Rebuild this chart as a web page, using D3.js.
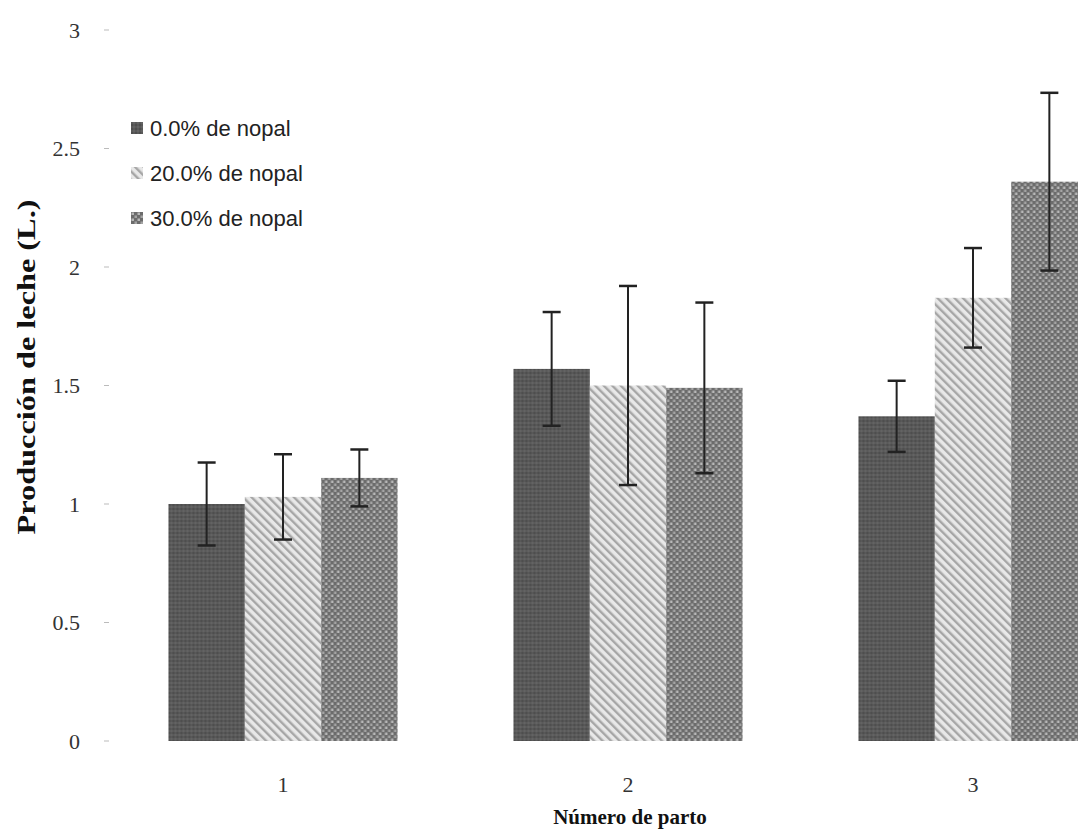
<!DOCTYPE html>
<html>
<head>
<meta charset="utf-8">
<script src="https://cdn.jsdelivr.net/npm/d3@7"></script>
<style>
  body { margin: 0; background: #fff; }
  svg { display: block; }
</style>
</head>
<body>
<script>
// data
var categories = ["1", "2", "3"];
var series = ["0.0% de nopal", "20.0% de nopal", "30.0% de nopal"];
var values0 = [1.00, 1.57, 1.37];
var values20 = [1.03, 1.50, 1.87];
var values30 = [1.11, 1.49, 2.36];
var err0 = [0.175, 0.24, 0.15];
var err20 = [0.18, 0.42, 0.21];
var err30 = [0.12, 0.36, 0.375];
var yTicks = [0, 0.5, 1, 1.5, 2, 2.5, 3];

var allValues = [values0, values20, values30];
var allErr = [err0, err20, err30];

var width = 1078, height = 829;

var svg = d3.select("body").append("svg")
  .attr("width", width)
  .attr("height", height);

// patterns for the three fills
var defs = svg.append("defs");

var p0 = defs.append("pattern")
  .attr("id", "pat0")
  .attr("patternUnits", "userSpaceOnUse")
  .attr("width", 4).attr("height", 4);
p0.append("rect").attr("width", 4).attr("height", 4).attr("fill", "#595959");
p0.append("rect").attr("width", 2).attr("height", 2).attr("fill", "#4e4e4e");
p0.append("rect").attr("x", 2).attr("y", 2).attr("width", 2).attr("height", 2).attr("fill", "#636363");

var p1 = defs.append("pattern")
  .attr("id", "pat1")
  .attr("patternUnits", "userSpaceOnUse")
  .attr("width", 6).attr("height", 6)
  .attr("patternTransform", "rotate(-45)");
p1.append("rect").attr("width", 6).attr("height", 6).attr("fill", "#e8e8e8");
p1.append("rect").attr("width", 2.4).attr("height", 6).attr("fill", "#a6a6a6");

var p2 = defs.append("pattern")
  .attr("id", "pat2")
  .attr("patternUnits", "userSpaceOnUse")
  .attr("width", 6).attr("height", 6);
p2.append("rect").attr("width", 6).attr("height", 6).attr("fill", "#6c6c6c");
p2.append("rect").attr("x", 0.5).attr("y", 0.5).attr("width", 2.5).attr("height", 2.5).attr("fill", "#b8b8b8");
p2.append("rect").attr("x", 3.5).attr("y", 3.5).attr("width", 2.5).attr("height", 2.5).attr("fill", "#a4a4a4");

var fills = ["url(#pat0)", "url(#pat1)", "url(#pat2)"];

// scales
var y = d3.scaleLinear().domain([0, 3]).range([741, 30]);

var x0 = d3.scaleBand()
  .domain(categories)
  .range([110.5, 1145.5])
  .paddingInner(0.336)
  .paddingOuter(0.168);

var x1 = d3.scaleBand()
  .domain(d3.range(series.length))
  .range([0, x0.bandwidth()]);

// y axis: labels and small ticks, no axis line
var yAxis = svg.append("g").attr("class", "y axis");
yAxis.selectAll("line")
  .data(yTicks)
  .enter()
  .append("line")
    .attr("x1", 104).attr("x2", 109)
    .attr("y1", function(d) { return y(d); })
    .attr("y2", function(d) { return y(d); })
    .attr("stroke", "#bbb")
    .attr("stroke-width", 1);
yAxis.selectAll("text")
  .data(yTicks)
  .enter()
  .append("text")
    .attr("x", 80)
    .attr("y", function(d) { return y(d); })
    .attr("dy", "0.35em")
    .attr("text-anchor", "end")
    .style("font-family", "'Liberation Serif', serif")
    .style("font-size", "22px")
    .attr("fill", "#333")
    .text(function(d) { return d; });

// bars
var groups = svg.append("g")
  .attr("class", "bars")
  .selectAll("g")
  .data(categories)
  .enter()
  .append("g")
    .attr("transform", function(d) { return "translate(" + x0(d) + ",0)"; });

function rows(d, i) {
  return series.map(function(s, k) { return {k: k, v: allValues[k][i], e: allErr[k][i]}; });
}

groups.selectAll("rect")
  .data(rows)
  .enter()
  .append("rect")
    .attr("x", function(d) { return x1(d.k); })
    .attr("y", function(d) { return y(d.v); })
    .attr("width", x1.bandwidth())
    .attr("height", function(d) { return y(0) - y(d.v); })
    .attr("fill", function(d) { return fills[d.k]; });

// error bars
var eb = groups.selectAll("g.err")
  .data(rows)
  .enter()
  .append("g")
    .attr("class", "err")
    .attr("transform", function(d) { return "translate(" + (x1(d.k) + x1.bandwidth() / 2) + ",0)"; });

eb.append("line")
  .attr("x1", 0).attr("x2", 0)
  .attr("y1", function(d) { return y(d.v + d.e); })
  .attr("y2", function(d) { return y(d.v - d.e); })
  .attr("stroke", "#222")
  .attr("stroke-width", 2);
eb.append("line")
  .attr("x1", -9).attr("x2", 9)
  .attr("y1", function(d) { return y(d.v + d.e); })
  .attr("y2", function(d) { return y(d.v + d.e); })
  .attr("stroke", "#222")
  .attr("stroke-width", 2.5);
eb.append("line")
  .attr("x1", -9).attr("x2", 9)
  .attr("y1", function(d) { return y(d.v - d.e); })
  .attr("y2", function(d) { return y(d.v - d.e); })
  .attr("stroke", "#222")
  .attr("stroke-width", 2.5);

// x tick labels
svg.append("g")
  .attr("class", "x axis")
  .selectAll("text")
  .data(categories)
  .enter()
  .append("text")
    .attr("x", function(d) { return x0(d) + x0.bandwidth() / 2; })
    .attr("y", 792)
    .attr("text-anchor", "middle")
    .style("font-family", "'Liberation Serif', serif")
    .style("font-size", "22px")
    .attr("fill", "#333")
    .text(function(d) { return d; });

// axis titles
svg.append("text")
  .attr("x", 630)
  .attr("y", 824)
  .attr("text-anchor", "middle")
  .style("font-family", "'Liberation Serif', serif")
  .style("font-weight", "bold")
  .style("font-size", "21px")
  .attr("fill", "#111")
  .text("Número de parto");

svg.append("text")
  .attr("transform", "translate(35,367)rotate(-90)")
  .attr("text-anchor", "middle")
  .attr("textLength", 335)
  .attr("lengthAdjust", "spacingAndGlyphs")
  .style("font-family", "'Liberation Serif', serif")
  .style("font-weight", "bold")
  .style("font-size", "25px")
  .attr("fill", "#111")
  .text("Producción de leche (L.)");

// legend
var legend = svg.append("g")
  .attr("class", "legend")
  .selectAll("g")
  .data(series)
  .enter()
  .append("g")
    .attr("transform", function(d, i) { return "translate(131," + (128 + i * 45) + ")"; });

legend.append("rect")
  .attr("x", 0).attr("y", -6)
  .attr("width", 12).attr("height", 12)
  .attr("fill", function(d, i) { return fills[i]; });

legend.append("text")
  .attr("x", 19)
  .attr("y", 0)
  .attr("dy", "0.35em")
  .style("font-family", "'Liberation Sans', Arial, sans-serif")
  .style("font-size", "22px")
  .attr("fill", "#222")
  .text(function(d) { return d; });
</script>
</body>
</html>
